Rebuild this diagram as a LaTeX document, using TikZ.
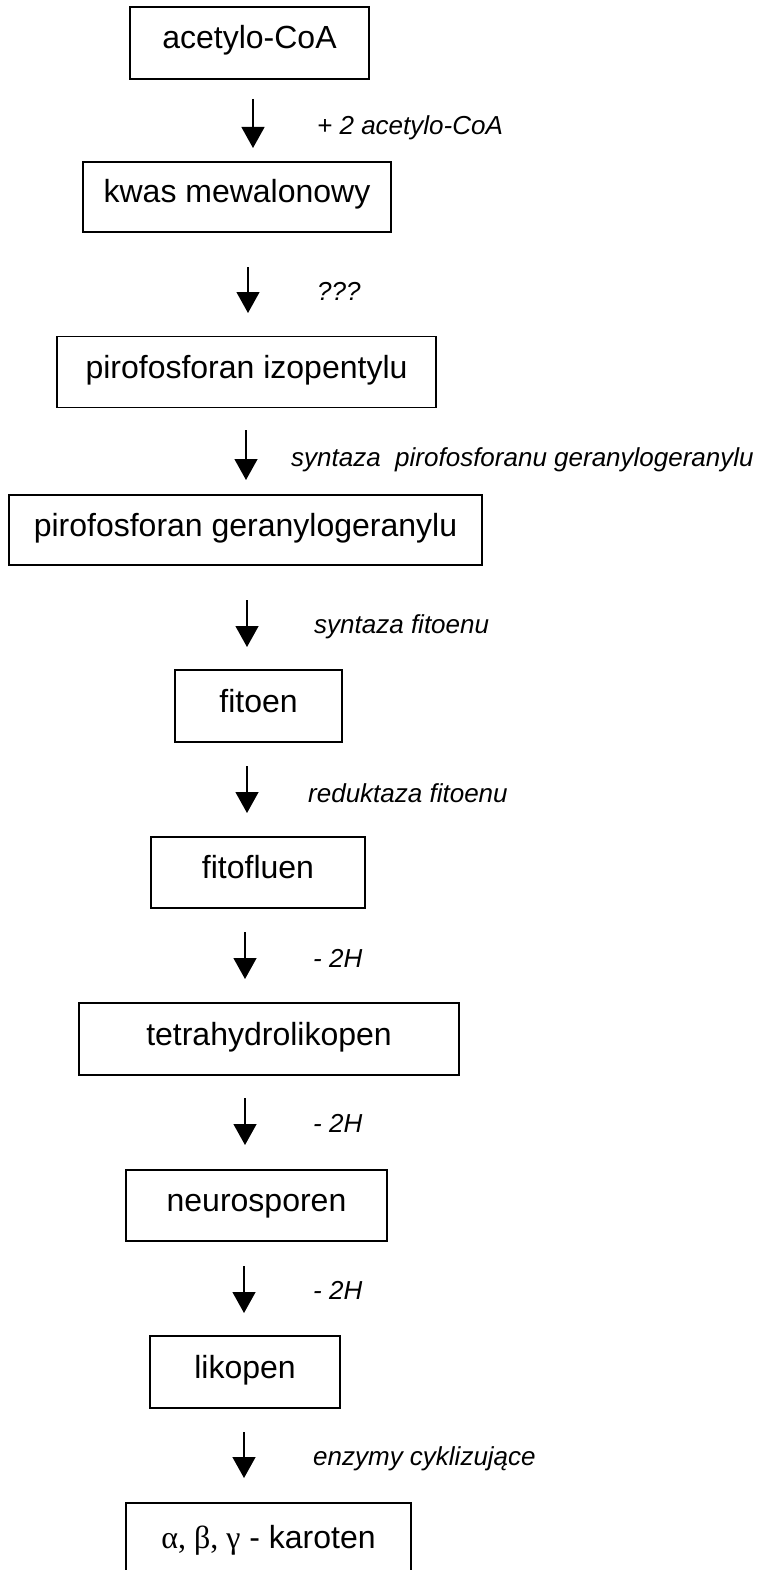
\documentclass[tikz,border=0pt]{standalone}
\usepackage{fontspec}
\setmainfont{Liberation Sans}
\newfontfamily\grk{Liberation Serif}
\usetikzlibrary{arrows.meta}
\tikzset{
  box/.style={draw, line width=1.3pt, inner sep=0pt, text height=23pt, text depth=11pt,
    font=\fontsize{32}{37}\selectfont},
  lbl/.style={anchor=base west, inner sep=0pt, font=\fontsize{26}{30}\selectfont\itshape},
  arr/.style={line width=1.3pt, -{Triangle[width=23pt,length=21pt]}}
}
\begin{document}
\begin{tikzpicture}[x=1pt,y=-1pt]
\useasboundingbox[fill=white] (0,0) rectangle (763,1570);
% boxes
\node[box, minimum width=239pt, minimum height=72pt] (b1) at (249.5,43) {acetylo-CoA};
\node[box, minimum width=308pt, minimum height=70pt] (b2) at (237,197) {kwas mewalonowy};
\node[box, minimum width=379pt, minimum height=71pt] (b3) at (246.5,372) {pirofosforan izopentylu};
\node[box, minimum width=473pt, minimum height=70pt] (b4) at (245.5,530) {pirofosforan geranylogeranylu};
\node[box, minimum width=167pt, minimum height=72pt] (b5) at (258.5,706) {fitoen};
\node[box, minimum width=214pt, minimum height=71pt] (b6) at (258,872.5) {fitofluen};
\node[box, minimum width=380pt, minimum height=72pt] (b7) at (269,1039) {tetrahydrolikopen};
\node[box, minimum width=261pt, minimum height=71pt] (b8) at (256.5,1205.5) {neurosporen};
\node[box, minimum width=190pt, minimum height=72pt] (b9) at (245,1372) {likopen};
\node[box, minimum width=285pt, minimum height=78pt] (b10) at (268.5,1542) {{\grk α, β, γ} - karoten};
% arrows
\coordinate (s1) at (253,99);   \coordinate (e1) at (253,148);
\coordinate (s2) at (248,267);  \coordinate (e2) at (248,313);
\coordinate (s3) at (246,430);  \coordinate (e3) at (246,480);
\coordinate (s4) at (247,600);  \coordinate (e4) at (247,647);
\coordinate (s5) at (247,766);  \coordinate (e5) at (247,813);
\coordinate (s6) at (245,932);  \coordinate (e6) at (245,979);
\coordinate (s7) at (245,1098); \coordinate (e7) at (245,1145);
\coordinate (s8) at (244,1266); \coordinate (e8) at (244,1313);
\coordinate (s9) at (244,1432); \coordinate (e9) at (244,1478);
\foreach \i in {1,...,9} { \draw[arr] (s\i) -- (e\i); }
% labels
\node[lbl] (l1) at (317,135) {+ 2 acetylo-CoA};
\node[lbl] (l2) at (317,300) {???};
\node[lbl] (l3) at (291,466) {syntaza\ \ pirofosforanu geranylogeranylu};
\node[lbl] (l4) at (314,633) {syntaza fitoenu};
\node[lbl] (l5) at (308,802) {reduktaza fitoenu};
\node[lbl] (l6) at (313,967) {- 2H};
\node[lbl] (l7) at (313,1132) {- 2H};
\node[lbl] (l8) at (313,1299) {- 2H};
\node[lbl] (l9) at (313,1465) {enzymy cyklizujące};
\end{tikzpicture}
\end{document}
